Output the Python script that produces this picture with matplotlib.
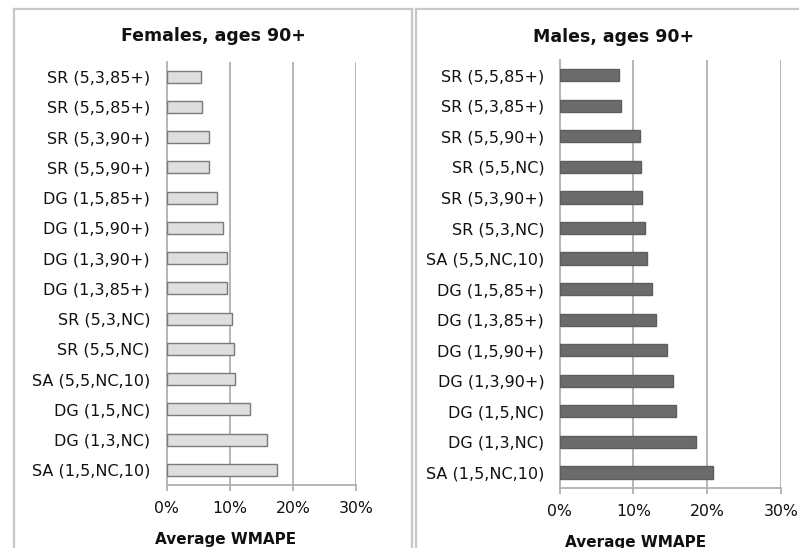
import matplotlib
matplotlib.use("Agg")
import matplotlib.pyplot as plt
from matplotlib.lines import Line2D
from matplotlib.ticker import FuncFormatter

plt.rcParams['font.family'] = ['DejaVu Sans']

female_labels = ["SR (5,3,85+)", "SR (5,5,85+)", "SR (5,3,90+)", "SR (5,5,90+)",
                 "DG (1,5,85+)", "DG (1,5,90+)", "DG (1,3,90+)", "DG (1,3,85+)",
                 "SR (5,3,NC)", "SR (5,5,NC)", "SA (5,5,NC,10)", "DG (1,5,NC)",
                 "DG (1,3,NC)", "SA (1,5,NC,10)"]
female_values = [5.4, 5.6, 6.7, 6.7, 8.0, 8.9, 9.5, 9.55, 10.3, 10.7, 10.75, 13.2, 15.9, 17.5]

male_labels = ["SR (5,5,85+)", "SR (5,3,85+)", "SR (5,5,90+)", "SR (5,5,NC)",
               "SR (5,3,90+)", "SR (5,3,NC)", "SA (5,5,NC,10)", "DG (1,5,85+)",
               "DG (1,3,85+)", "DG (1,5,90+)", "DG (1,3,90+)", "DG (1,5,NC)",
               "DG (1,3,NC)", "SA (1,5,NC,10)"]
male_values = [8.1, 8.3, 10.9, 11.0, 11.2, 11.6, 11.9, 12.5, 13.1, 14.6, 15.4, 15.7, 18.5, 20.8]

x_ticks = [0, 10, 20, 30]
titles = ["Females, ages 90+", "Males, ages 90+"]
xlabel = "Average WMAPE"

W, H = 799, 548
fig = plt.figure(figsize=(W / 100, H / 100), dpi=100)

def fx(px):
    return px / W

def fy(py):
    return 1 - py / H

grid_c = "#b0b0b0"
text_c = "#111111"

def make_panel(rect, labels, values, face, edge, ypad):
    ax = fig.add_axes(rect)
    ypos = list(range(len(labels)))
    for t in x_ticks[1:]:
        ax.axvline(t, color=grid_c, linewidth=1.3, zorder=1)
    ax.barh(ypos, values, height=0.40, color=face, edgecolor=edge, linewidth=1.0, zorder=3)
    ax.set_yticks(ypos)
    ax.set_yticklabels(labels)
    ax.set_ylim(len(labels) - 0.5, -0.5)
    ax.set_xlim(0, 30)
    ax.set_xticks(x_ticks)
    ax.xaxis.set_major_formatter(FuncFormatter(lambda v, p: f"{int(v)}%"))
    for s in ["top", "right"]:
        ax.spines[s].set_visible(False)
    for s in ["left", "bottom"]:
        ax.spines[s].set_color(grid_c)
        ax.spines[s].set_linewidth(1.3)
        ax.spines[s].set_zorder(2)
    ax.tick_params(axis="y", length=0, pad=ypad, labelsize=11.5, labelcolor=text_c)
    ax.tick_params(axis="x", length=4, width=1.3, color=grid_c, pad=7.5,
                   labelsize=11.3, labelcolor=text_c, direction="out")
    return ax

# Female panel
make_panel([fx(166.7), fy(485), fx(356) - fx(166.7), fy(61.5) - fy(485)],
           female_labels, female_values, "#dedede", "#7a7a7a", 12)
# Male panel
make_panel([fx(559.5), fy(487.7), fx(781.3) - fx(559.5), fy(60) - fy(487.7)],
           male_labels, male_values, "#6b6b6b", "#5e5e5e", 11)

# Titles
fig.text(fx(213), fy(41), titles[0], ha="center", va="baseline",
         fontsize=12.5, fontweight="bold", color=text_c)
fig.text(fx(613.5), fy(42), titles[1], ha="center", va="baseline",
         fontsize=12.5, fontweight="bold", color=text_c)
# x labels
fig.text(fx(225.5), fy(544), xlabel, ha="center", va="baseline",
         fontsize=11, fontweight="bold", color=text_c)
fig.text(fx(636), fy(546.5), xlabel, ha="center", va="baseline",
         fontsize=11, fontweight="bold", color=text_c)

# Panel borders
border_c = "#c8c8c8"
lw = 1.6
fig.add_artist(Line2D([fx(14), fx(14)], [fy(9), 0], color=border_c, lw=lw))
fig.add_artist(Line2D([fx(14), fx(412)], [fy(9), fy(9)], color=border_c, lw=lw))
fig.add_artist(Line2D([fx(412), fx(412)], [fy(9), 0], color=border_c, lw=lw))
fig.add_artist(Line2D([fx(416), fx(416)], [fy(9), 0], color=border_c, lw=lw))
fig.add_artist(Line2D([fx(416), 1], [fy(9), fy(9)], color=border_c, lw=lw))

fig.savefig("out.png", dpi=100, facecolor="white")
